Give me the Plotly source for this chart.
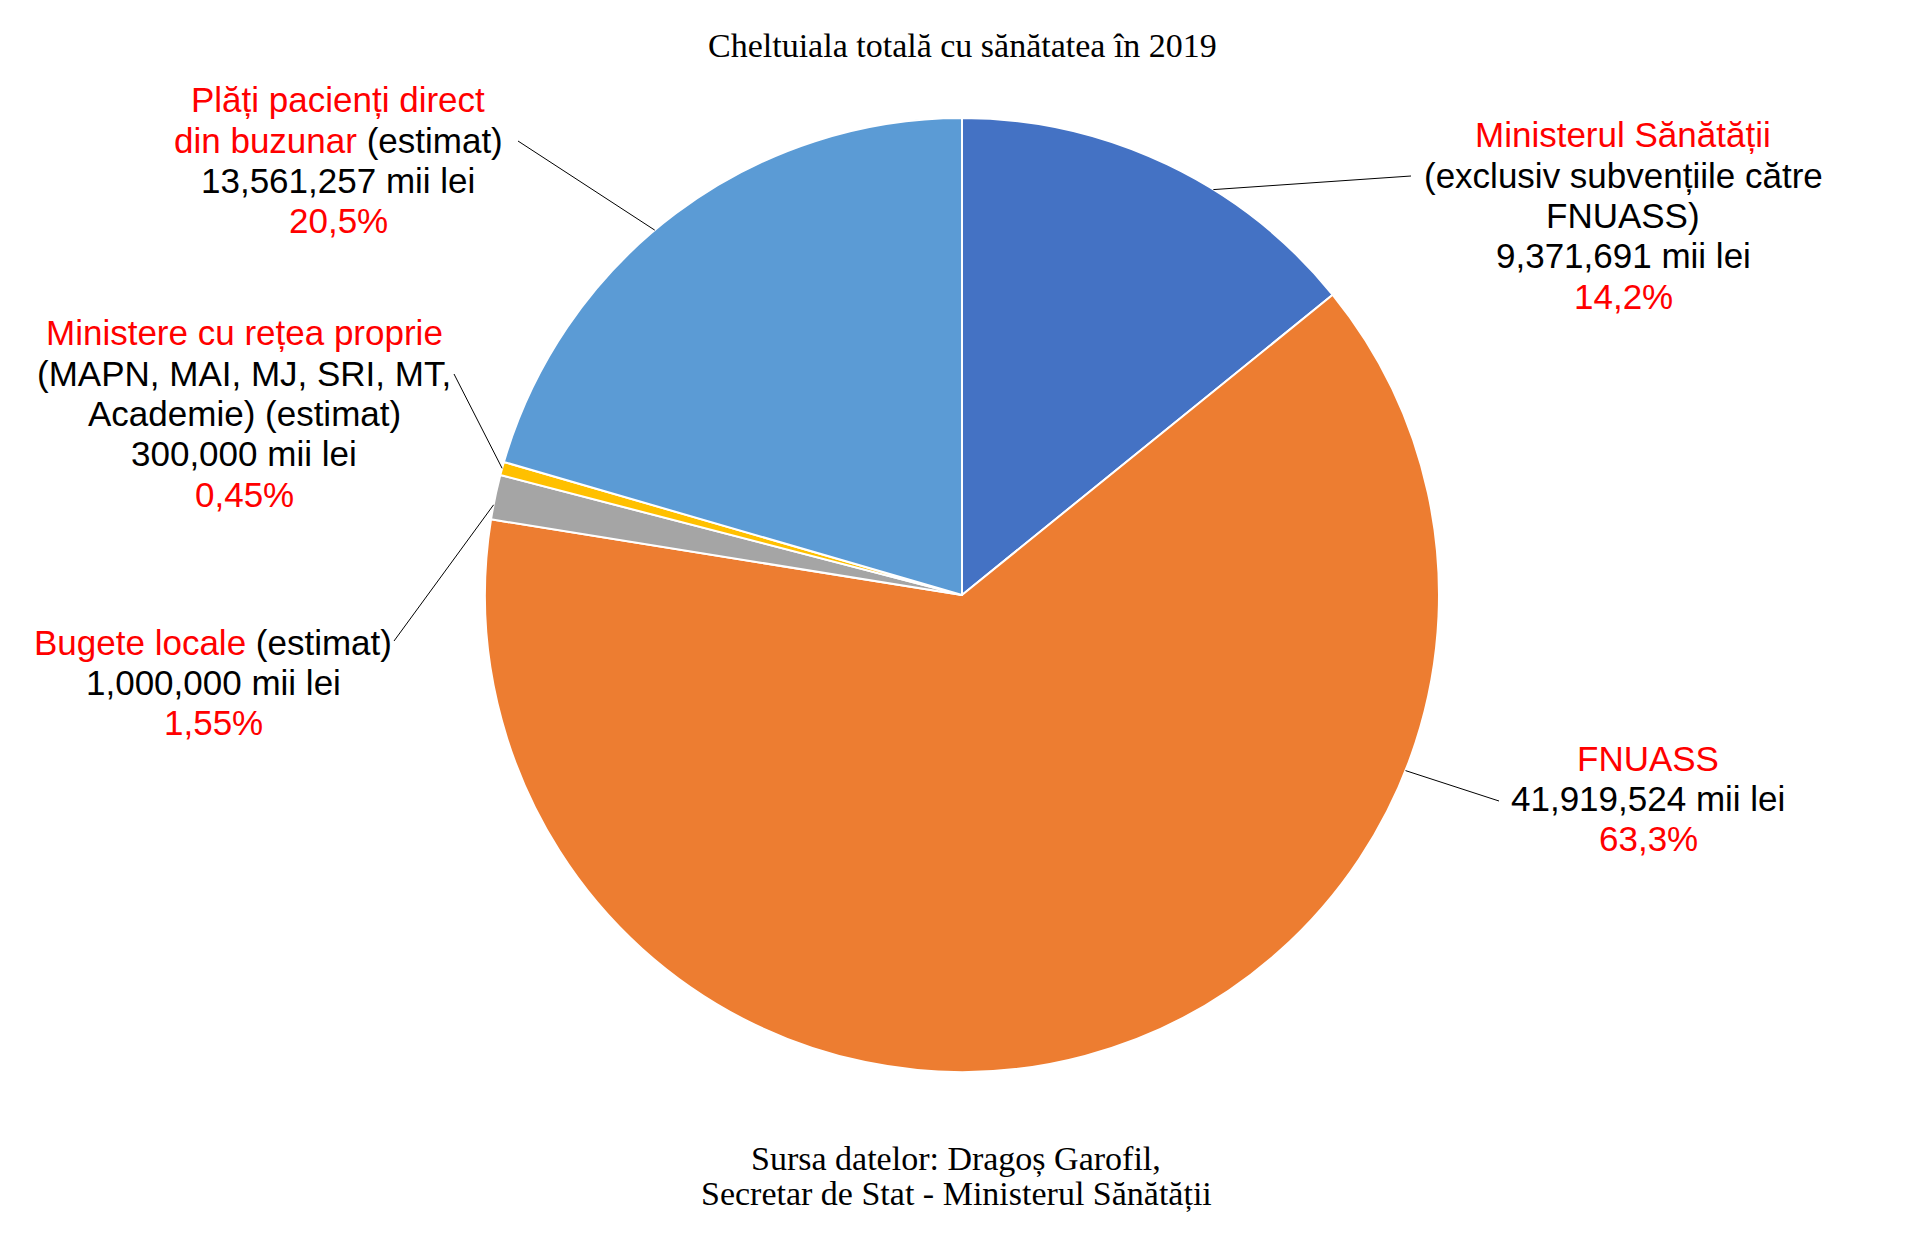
import math
import plotly.graph_objects as go

# date
categorii = [
    "Ministerul Sănătății",
    "FNUASS",
    "Bugete locale",
    "Ministere cu rețea proprie",
    "Plăți pacienți direct din buzunar",
]
valori = [9371691, 41919524, 1000000, 300000, 13561257]
procente = ["14,2%", "63,3%", "1,55%", "0,45%", "20,5%"]
culori = ["#4472C4", "#ED7D31", "#A5A5A5", "#FFC000", "#5B9BD5"]

RED = "#FF0000"
W, H = 1920, 1241
CX, CY, R = 966, 596, 477
# pagina are o margine de ~8px, o compensam
OX, OY = -12, -9


def red(s):
    return f"<span style='color:{RED}'>{s}</span>"


def fmt(v):
    return f"{v:,} mii lei"


# text pe linii pentru fiecare felie
linii = [
    [red("Ministerul Sănătății"), "(exclusiv subvențiile către", "FNUASS)",
     fmt(valori[0]), red(procente[0])],
    [red("FNUASS"), fmt(valori[1]), red(procente[1])],
    [red("Bugete locale") + " (estimat)", fmt(valori[2]), red(procente[2])],
    [red("Ministere cu rețea proprie"), "(MAPN, MAI, MJ, SRI, MT,",
     "Academie) (estimat)", fmt(valori[3]), red(procente[3])],
    [red("Plăți pacienți direct"), red("din buzunar") + " (estimat)",
     fmt(valori[4]), red(procente[4])],
]

# pozitia etichetelor (px) si capetele liniilor de legatura
eticheta_xy = [(1627, 136), (1652, 759), (217, 643), (248, 334), (342, 101)]
unghi_start = [31.8, 111.6, 280.9, 285.4, 319.9]
capat_linie = [(1415, 177), (1503, 802), (398, 642), (458, 375), (522, 142)]
PAS = 40.3


def px(x, y):
    return (x + OX) / W, 1 - (y + OY) / H


fig = go.Figure(go.Pie(
    labels=categorii,
    values=valori,
    sort=False,
    direction="clockwise",
    rotation=0,
    marker=dict(colors=culori, line=dict(color="white", width=2)),
    textinfo="none",
    hoverinfo="label+value+percent",
    domain=dict(x=[px(CX - R, 0)[0], px(CX + R, 0)[0]],
                y=[px(0, CY + R)[1], px(0, CY - R)[1]]),
    showlegend=False,
))

annotations = []
shapes = []
for i, rows in enumerate(linii):
    x0, y0 = eticheta_xy[i]
    for k, t in enumerate(rows):
        ax, ay = px(x0, y0 + k * PAS)
        annotations.append(dict(
            x=ax, y=ay, xref="paper", yref="paper", text=t, showarrow=False,
            xanchor="center", yanchor="middle",
            font=dict(family="Liberation Sans, Arial", size=35, color="black"),
        ))
    a = math.radians(unghi_start[i])
    sx, sy = CX + R * math.sin(a), CY - R * math.cos(a)
    ex, ey = capat_linie[i]
    p0, p1 = px(sx, sy), px(ex, ey)
    shapes.append(dict(type="line", xref="paper", yref="paper",
                       x0=p0[0], y0=p0[1], x1=p1[0], y1=p1[1],
                       line=dict(color="black", width=1)))

serif = dict(family="Liberation Serif, Times New Roman", size=34, color="black")
tx, ty = px(CX, 46)
annotations.append(dict(x=tx, y=ty, xref="paper", yref="paper",
                        text="Cheltuiala totală cu sănătatea în 2019",
                        showarrow=False, xanchor="center", yanchor="middle", font=serif))
for k, t in enumerate(["Sursa datelor: Dragoș Garofil,",
                       "Secretar de Stat - Ministerul Sănătății"]):
    sx_, sy_ = px(960, 1160 + k * 35)
    annotations.append(dict(x=sx_, y=sy_, xref="paper", yref="paper",
                            text=t, showarrow=False, xanchor="center", yanchor="middle",
                            font=serif))

fig.update_layout(
    width=W, height=H,
    margin=dict(l=0, r=0, t=0, b=0),
    paper_bgcolor="white",
    plot_bgcolor="white",
    annotations=annotations,
    shapes=shapes,
)

fig.write_html("out.html")
